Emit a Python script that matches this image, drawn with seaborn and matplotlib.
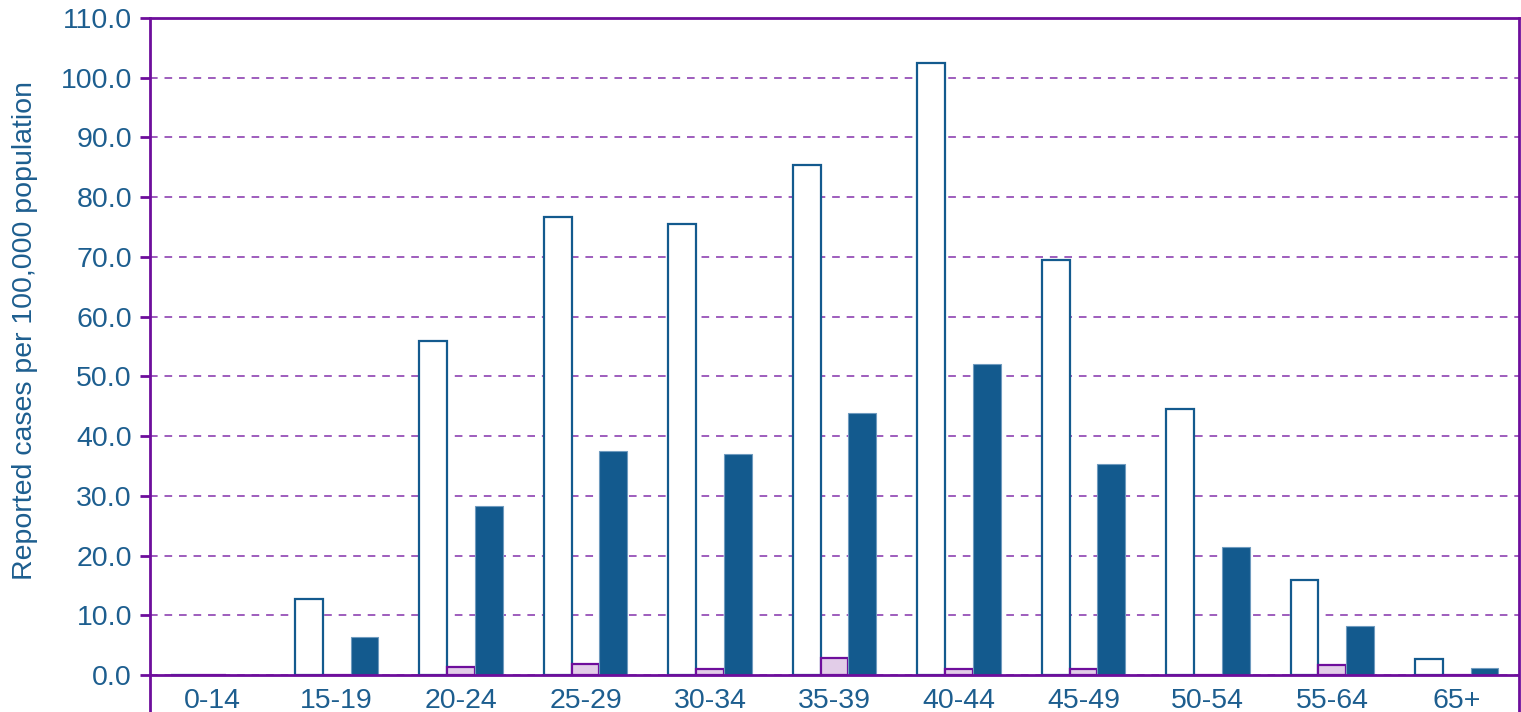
import pandas as pd
import matplotlib
matplotlib.use("Agg")
import matplotlib.pyplot as plt
import seaborn as sns

age_groups = ["0-14", "15-19", "20-24", "25-29", "30-34", "35-39",
              "40-44", "45-49", "50-54", "55-64", "65+"]
male = [0.0, 12.7, 55.9, 76.7, 75.5, 85.4, 102.5, 69.5, 44.6, 15.9, 2.7]
female = [0.0, 0.0, 1.3, 1.9, 1.0, 2.8, 1.0, 1.0, 0.0, 1.6, 0.0]
total = [0.0, 6.4, 28.3, 37.5, 37.0, 43.9, 52.1, 35.3, 21.4, 8.2, 1.2]
series = ["Male", "Female", "Total"]
yticks = [0, 10, 20, 30, 40, 50, 60, 70, 80, 90, 100, 110]

blue = "#135A8E"
purple = "#6E0E9C"
lilac = "#E2CDE8"
text_blue = "#1D5E8F"

df = pd.DataFrame({
    "age": age_groups * 3,
    "rate": male + female + total,
    "series": [s for s in series for _ in age_groups],
})

sns.set_style("white")
plt.rcParams["font.family"] = ["Liberation Sans", "DejaVu Sans"]

fig = plt.figure(figsize=(15.21, 7.12), dpi=100)
ax = fig.add_axes([150 / 1521, 0.0, 1369 / 1521, 1 - 18 / 712])

sns.barplot(data=df, x="age", y="rate", hue="series", order=age_groups,
            hue_order=series, width=0.67, legend=False, ax=ax,
            palette=["white", lilac, blue])

# per-series look: hollow, light lilac, solid blue
styles = [("white", blue, 1.6), (lilac, purple, 1.6), (blue, "#6F9BBF", 0.8)]
for cont, (fc, ec, lw) in zip(ax.containers, styles):
    for bar in cont:
        bar.set_facecolor(fc)
        bar.set_edgecolor(ec)
        bar.set_linewidth(lw)

ax.set_ylim(-6.2, 110)
ax.set_xlim(-0.5, len(age_groups) - 0.5)
ax.set_yticks(yticks)
ax.set_yticklabels([f"{v:.1f}" for v in yticks])
ax.set_axisbelow(True)
ax.yaxis.grid(True, linestyle=(0, (5, 4.5)), color=purple, linewidth=1.1, alpha=0.85)

for side in ["left", "right", "top"]:
    ax.spines[side].set_visible(True)
    ax.spines[side].set_color(purple)
    ax.spines[side].set_linewidth(2)
ax.spines["bottom"].set_visible(False)
ax.axhline(0, color=purple, linewidth=2, zorder=5)

ax.tick_params(axis="y", left=True, length=7, width=2, color=purple,
               labelsize=20.5, labelcolor=text_blue, pad=6)
ax.tick_params(axis="x", bottom=False, labelsize=20.5, labelcolor=text_blue, pad=-21)
ax.set_xlabel("")
ax.set_ylabel("")
fig.text(25 / 1521, 1 - 330 / 712, "Reported cases per 100,000 population",
         rotation=90, ha="center", va="center", fontsize=20.5, color=text_blue)

fig.savefig("out.png", dpi=100)
